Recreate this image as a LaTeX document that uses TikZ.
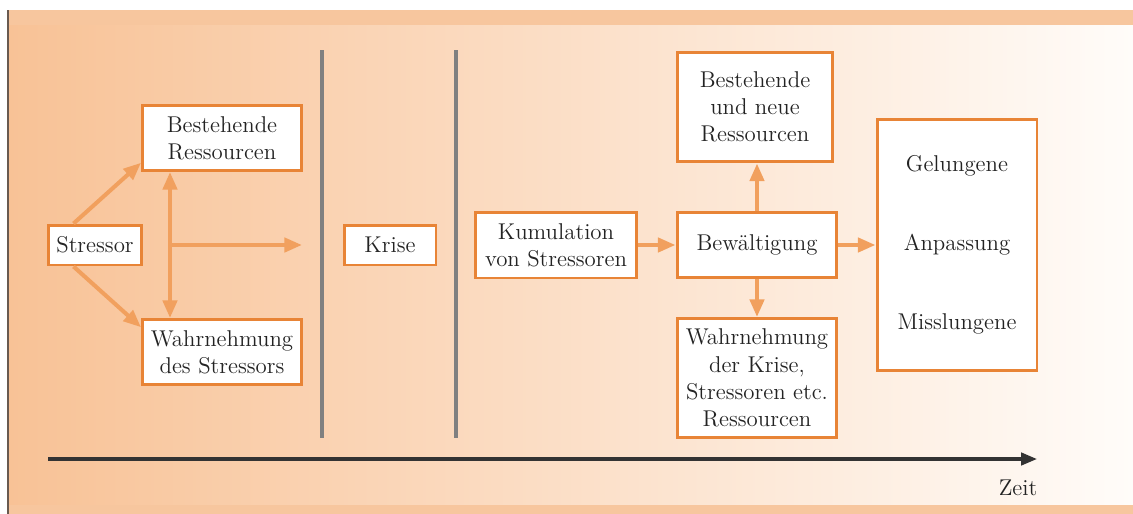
\documentclass[tikz,border=0pt]{standalone}
\usepackage{tikz}
\usetikzlibrary{arrows.meta,positioning}
\definecolor{boxorange}{RGB}{232,132,54}
\definecolor{arroworange}{RGB}{241,160,94}
\definecolor{bgorange}{RGB}{248,194,150}
\definecolor{bgmid}{RGB}{252,226,202}
\definecolor{bgwhite}{RGB}{255,252,249}
\definecolor{bandorange}{RGB}{247,198,158}
\definecolor{divgray}{RGB}{128,128,128}
\definecolor{edgegray}{RGB}{105,90,80}
\definecolor{textgray}{RGB}{35,35,35}

\begin{document}
\begin{tikzpicture}[x=0.02cm, y=-0.02cm,
    every node/.style={font=\fontsize{13}{15.5}\selectfont, text=textgray},
    stepbox/.style={draw=boxorange, line width=1.7pt, fill=white, align=center, inner sep=0pt},
    flow/.style={draw=arroworange, line width=2.3pt, -{Triangle[length=10pt,width=8pt]}},
    twoway/.style={draw=arroworange, line width=2.3pt, {Triangle[length=10pt,width=8pt]}-{Triangle[length=10pt,width=8pt]}},
    divider/.style={draw=divgray, line width=2.4pt},
    timeaxis/.style={draw=black!80, line width=1.8pt, -{Triangle[length=9pt,width=7pt]}}]
    \useasboundingbox (0,0) rectangle (1133,514);

    % Background
    \fill[left color=bgorange, middle color=bgmid, right color=bgwhite] (8,10) rectangle (1133,514);
    \fill[bandorange] (8,10) rectangle (1133,25);
    \fill[bandorange] (8,505) rectangle (1133,514);
    \draw[edgegray, line width=1.2pt] (8,10) -- (8,514);

    % Dividers
    \draw[divider] (322,50) -- (322,438);
    \draw[divider] (456,50) -- (456,438);

    % Stressor phase
    \node[stepbox, minimum width=1.88cm, minimum height=0.8cm] (stressor) at (95,245) {Stressor};
    \node[stepbox, minimum width=3.18cm, minimum height=1.3cm] (ress1) at (222,138) {Bestehende\\Ressourcen};
    \node[stepbox, minimum width=3.18cm, minimum height=1.3cm] (wahrn1) at (222,352) {Wahrnehmung\\des Stressors};
    \coordinate (split) at (170,245);
    \coordinate (splitend) at (302,245);

    % Crisis
    \node[stepbox, minimum width=1.84cm, minimum height=0.8cm] (krise) at (390,245) {Krise};

    % Coping phase
    \node[stepbox, minimum width=3.22cm, minimum height=1.32cm] (kumul) at (556,245) {Kumulation\\von Stressoren};
    \node[stepbox, minimum width=3.2cm, minimum height=1.3cm] (bewalt) at (757,245) {Bew\"altigung};
    \node[stepbox, minimum width=3.12cm, minimum height=2.2cm] (ress2) at (755,107) {Bestehende\\und neue\\Ressourcen};
    \node[stepbox, minimum width=3.2cm, minimum height=2.38cm] (wahrn2) at (757,378) {Wahrnehmung\\der Krise,\\Stressoren etc.\\Ressourcen};
    \node[stepbox, minimum width=3.2cm, minimum height=5.04cm] (outcome) at (957,245) {Gelungene\\[29.5pt]Anpassung\\[29.5pt]Misslungene};

    % Arrows
    \draw[flow] (stressor.135) -- (ress1.197);
    \draw[flow] (stressor.225) -- (wahrn1.163);
    \draw[twoway] (split |- ress1.south) -- (split |- wahrn1.north);
    \draw[flow] (split) -- (splitend);
    \draw[flow] (kumul) -- (bewalt);
    \draw[flow] (bewalt.north) -- (bewalt.north |- ress2.south);
    \draw[flow] (bewalt) -- (wahrn2);
    \draw[flow] (bewalt) -- (outcome);

    % Time axis
    \coordinate (tstart) at (48,459);
    \coordinate (tend) at (1037,459);
    \draw[timeaxis] (tstart) -- (tend);
    \node (zeit) at (1018,488) {Zeit};
\end{tikzpicture}
\end{document}
